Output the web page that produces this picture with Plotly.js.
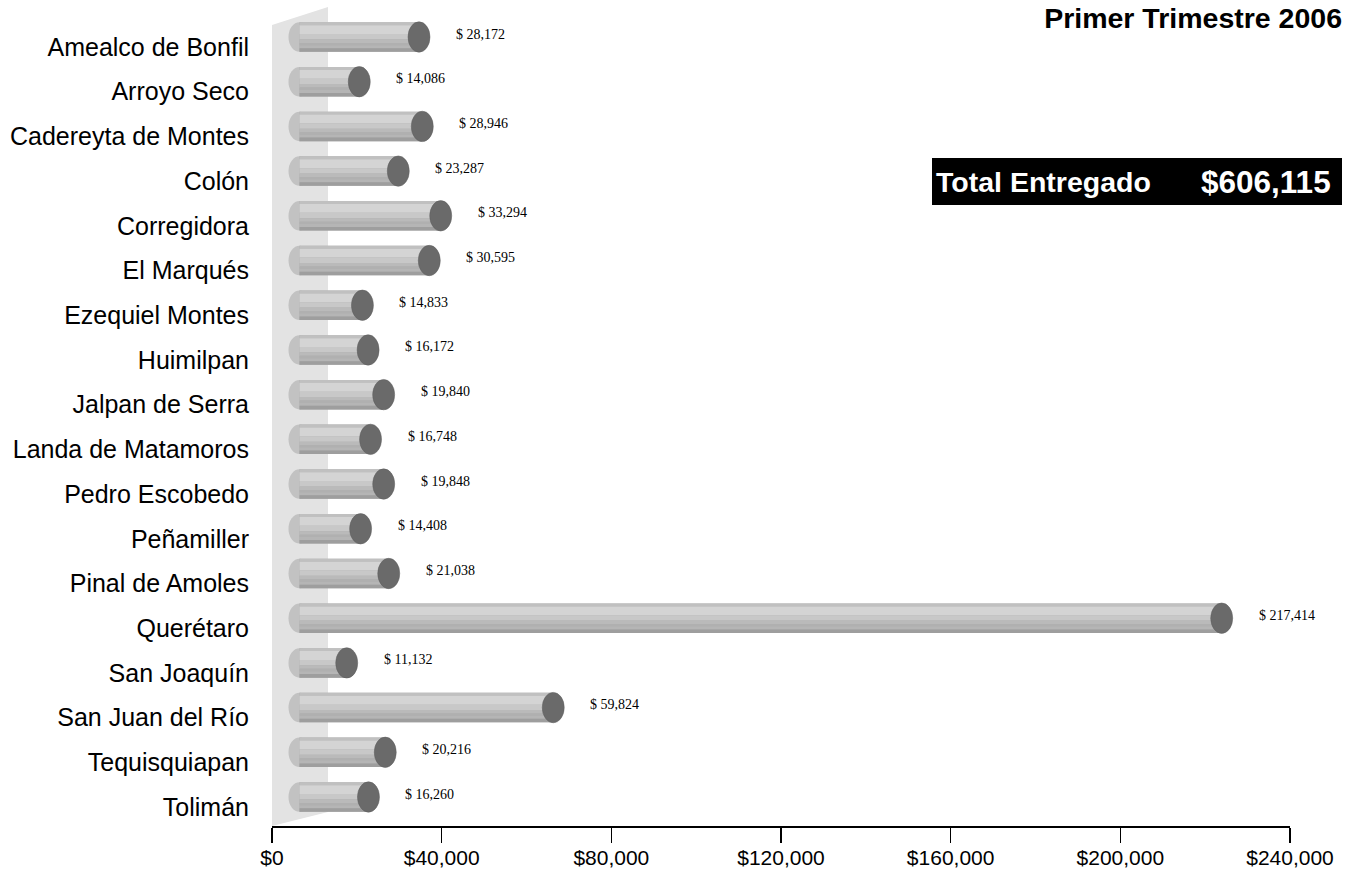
<!DOCTYPE html>
<html>
<head>
<meta charset="utf-8">
<script src="https://cdn.plot.ly/plotly-3.0.1.min.js"></script>
<style>html,body{margin:0;padding:0;background:#fff;}#chart{width:1354px;height:873px;}</style>
</head>
<body>
<div id="chart"></div>
<script>
// ---- data ----
const categories = ["Amealco de Bonfil","Arroyo Seco","Cadereyta de Montes","Colón","Corregidora","El Marqués","Ezequiel Montes","Huimilpan","Jalpan de Serra","Landa de Matamoros","Pedro Escobedo","Peñamiller","Pinal de Amoles","Querétaro","San Joaquín","San Juan del Río","Tequisquiapan","Tolimán"];
const values = [28172,14086,28946,23287,33294,30595,14833,16172,19840,16748,19848,14408,21038,217414,11132,59824,20216,16260];
const tickValues = [0,40000,80000,120000,160000,200000,240000];
const chartTitle = "Primer Trimestre 2006";
const totalLabel = "Total Entregado";
const totalValue = "$606,115";

// ---- layout geometry (pixels) ----
const W = 1354, H = 873;
const L = 272, R = 1290, T = 10, B = 826;
const pw = R - L, ph = B - T;
const xMax = 240000;
const scale = pw / xMax;
const depthX = 27.5;           // 3D depth shift of bars (px)
const barTop0 = 37, step = 44.706;  // bar centre of first category, spacing
const lblTop0 = 47;                 // label centre of first category
const px2pX = p => (p - L) / pw;
const px2pY = p => (B - p) / ph;

function catRange(c0) {
  return [(B - c0) / step, (T - c0) / step];
}

const barH = 0.66;
const stripes = [
  {f0: 0.00, f1: 1.00, c: '#acacac'},
  {f0: 0.00, f1: 0.10, c: '#c0c0c0'},
  {f0: 0.10, f1: 0.40, c: '#d4d4d4'},
  {f0: 0.40, f1: 0.58, c: '#c8c8c8'},
  {f0: 0.58, f1: 0.70, c: '#bababa'},
  {f0: 0.70, f1: 0.78, c: '#b0b0b0'},
  {f0: 0.78, f1: 0.88, c: '#b5b5b5'},
  {f0: 0.88, f1: 1.00, c: '#9e9e9e'}
];

const traces = stripes.map(s => ({
  type: 'bar', orientation: 'h',
  x: values, y: categories,
  xaxis: 'x2', yaxis: 'y2',
  offset: -barH / 2 + s.f0 * barH,
  width: (s.f1 - s.f0) * barH,
  marker: {color: s.c, line: {width: 0}},
  hoverinfo: 'skip', showlegend: false
}));

const shapes = [];
// back wall
shapes.push({
  type: 'path', xref: 'paper', yref: 'paper', layer: 'below',
  path: `M ${px2pX(272)},${px2pY(25)} L ${px2pX(328)},${px2pY(7)} L ${px2pX(328)},${px2pY(812)} L ${px2pX(272)},${px2pY(826)} Z`,
  fillcolor: '#e3e3e3', line: {width: 0}
});
// left ends of cylinders
values.forEach((v, i) => {
  shapes.push({
    type: 'circle', xref: 'x2', yref: 'y2', layer: 'below',
    xsizemode: 'pixel', xanchor: 0, x0: -11, x1: 11,
    y0: i - barH / 2, y1: i + barH / 2,
    fillcolor: '#c2c2c2', line: {width: 0}
  });
});
// right caps
values.forEach((v, i) => {
  shapes.push({
    type: 'circle', xref: 'x2', yref: 'y2', layer: 'above',
    xsizemode: 'pixel', xanchor: v, x0: -11, x1: 11,
    y0: i - barH / 2 - 0.01, y1: i + barH / 2 + 0.01,
    fillcolor: '#6a6a6a', line: {width: 0.5, color: '#5e5e5e'}
  });
});
// total box
shapes.push({
  type: 'rect', xref: 'paper', yref: 'paper', layer: 'above',
  x0: px2pX(932), x1: px2pX(1342), y0: px2pY(205), y1: px2pY(158),
  fillcolor: '#000000', line: {width: 0}
});

const annotations = values.map((v, i) => ({
  xref: 'x2', yref: 'y2', x: v, y: i,
  text: '$ ' + v.toLocaleString('en-US'),
  showarrow: false, xanchor: 'left', yanchor: 'middle',
  xshift: 35, yshift: 3,
  font: {family: 'Liberation Serif, Times New Roman, serif', size: 14, color: '#000'}
}));
annotations.push({
  xref: 'paper', yref: 'paper', x: px2pX(934), y: px2pY(181.5),
  text: '<b>' + totalLabel + '</b>', showarrow: false,
  xanchor: 'left', yanchor: 'middle',
  font: {family: 'Liberation Sans, Arial, sans-serif', size: 28.5, color: '#fff'}
});
annotations.push({
  xref: 'paper', yref: 'paper', x: px2pX(1333), y: px2pY(181.5),
  text: '<b>' + totalValue + '</b>', showarrow: false,
  xanchor: 'right', yanchor: 'middle',
  font: {family: 'Liberation Sans, Arial, sans-serif', size: 31.5, color: '#fff'}
});

const layout = {
  width: W, height: H,
  margin: {l: L, r: W - R, t: T, b: H - B, pad: 0},
  paper_bgcolor: '#fff', plot_bgcolor: 'rgba(0,0,0,0)',
  barmode: 'overlay',
  showlegend: false,
  title: {
    text: '<b>' + chartTitle + '</b>',
    xref: 'container', yref: 'container',
    x: 1342 / W, xanchor: 'right', y: 1 - 18 / H, yanchor: 'middle',
    font: {family: 'Liberation Sans, Arial, sans-serif', size: 28.5, color: '#000'}
  },
  xaxis: {
    range: [0, xMax], tickvals: tickValues,
    ticktext: tickValues.map(t => '$' + t.toLocaleString('en-US')),
    ticks: 'outside', ticklen: 15, tickwidth: 1.3, tickcolor: '#000',
    ticklabelstandoff: -3,
    showline: true, linecolor: '#000', linewidth: 1.5,
    showgrid: false, zeroline: false, fixedrange: true,
    tickfont: {family: 'Liberation Sans, Arial, sans-serif', size: 21, color: '#000'}
  },
  xaxis2: {
    overlaying: 'x', range: [-depthX / scale, xMax - depthX / scale],
    visible: false, showgrid: false, zeroline: false, fixedrange: true
  },
  yaxis: {
    type: 'category', categoryorder: 'array', categoryarray: categories,
    tickvals: categories,
    range: catRange(lblTop0),
    showline: false, showgrid: false, zeroline: false, ticks: '',
    ticklabelstandoff: 22, fixedrange: true,
    tickfont: {family: 'Liberation Sans, Arial, sans-serif', size: 25, color: '#000'}
  },
  yaxis2: {
    type: 'category', categoryorder: 'array', categoryarray: categories,
    overlaying: 'y', range: catRange(barTop0),
    visible: false, showgrid: false, zeroline: false, fixedrange: true
  },
  shapes: shapes,
  annotations: annotations
};

// invisible trace so the label y-axis has categories
traces.unshift({
  type: 'scatter', mode: 'markers', x: values.map(() => 0), y: categories,
  xaxis: 'x', yaxis: 'y', marker: {opacity: 0}, hoverinfo: 'skip', showlegend: false
});

Plotly.newPlot('chart', traces, layout, {displayModeBar: false, staticPlot: true});
</script>
</body>
</html>
